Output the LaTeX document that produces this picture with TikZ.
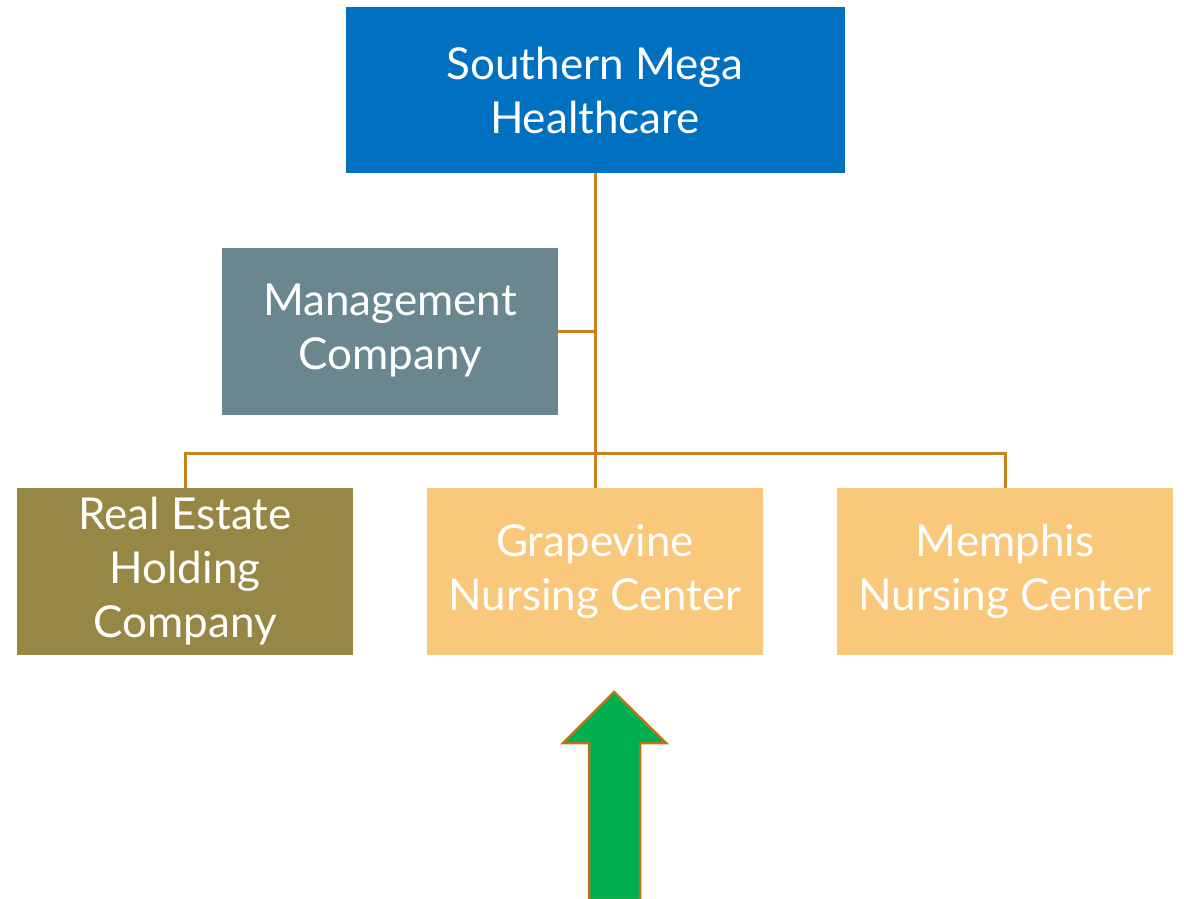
\documentclass[tikz,border=0pt]{standalone}
\usepackage{fontspec}
\setmainfont{Lato}
\definecolor{topblue}{HTML}{0070C0}
\definecolor{mgmtslate}{HTML}{6A8790}
\definecolor{estateolive}{HTML}{978745}
\definecolor{nursepeach}{HTML}{F9C87A}
\definecolor{linkorange}{HTML}{C8841A}
\definecolor{arrowgreen}{HTML}{00B050}
\definecolor{arrowedge}{HTML}{B8761A}
\begin{document}
\begin{tikzpicture}[x=1pt,y=-1pt,
  orgbox/.style={rectangle, minimum width=336pt, minimum height=167pt, inner sep=0pt,
    text=white, align=center, font=\fontsize{44}{54}\selectfont},
  link/.style={draw=linkorange, line width=3pt}]
\useasboundingbox (0,0) rectangle (1184,898);
\node[orgbox, fill=topblue, minimum width=499pt, minimum height=166pt] (smh) at (595,90) {Southern Mega\\Healthcare};
\node[orgbox, fill=mgmtslate] (mgmt) at (390,331) {Management\\Company};
\node[orgbox, fill=estateolive] (estate) at (185,571.5) {Real Estate\\Holding\\Company};
\node[orgbox, fill=nursepeach] (grape) at (595,571.5) {Grapevine\\Nursing Center};
\node[orgbox, fill=nursepeach] (memphis) at (1005,571.5) {Memphis\\Nursing Center};
% connector tree
\coordinate (hub) at (595,453);
\draw[link] (smh.south) -- (grape.north);
\draw[link] (mgmt.east) -- (smh.south |- mgmt.east);
\draw[link] (estate.north) |- (hub) -| (memphis.north);
% upward arrow
\draw[fill=arrowgreen, draw=arrowedge, line width=2.5pt, line join=miter]
  (614,692) -- (666,743) -- (640,743) -- (640,900) -- (589,900) -- (589,743) -- (563,743) -- cycle;
\end{tikzpicture}
\end{document}
